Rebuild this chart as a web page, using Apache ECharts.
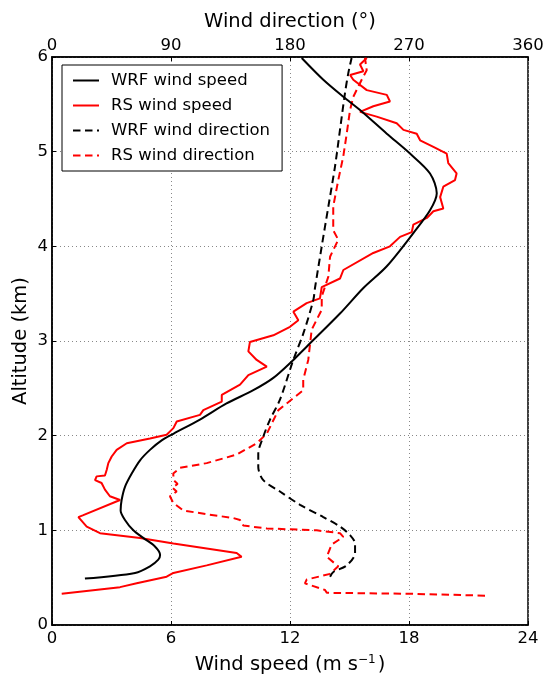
<!DOCTYPE html>
<html>
<head>
<meta charset="utf-8">
<script src="https://cdn.jsdelivr.net/npm/echarts@6/dist/echarts.min.js"></script>
<style>
  html, body { margin: 0; padding: 0; background: #fff; }
  #chart { width: 545px; height: 675px; }
</style>
</head>
<body>
<div id="chart"></div>
<script>
// Altitude (km) and wind profiles
const wrfSpeedAlt = [0.49, 0.55, 0.62, 0.69, 0.74, 0.83, 0.92, 1.00, 1.11, 1.21, 1.32, 1.46, 1.60, 1.74, 1.85, 1.95, 2.02, 2.17, 2.34, 2.48, 2.61, 2.80, 2.94, 3.29, 3.56, 3.79, 4.14, 4.38, 4.56, 4.77, 4.98, 5.19, 5.44, 5.58, 5.76, 5.99];
const wrfSpeed    = [1.66, 4.19, 4.94, 5.36, 5.45, 5.19, 4.60, 4.10, 3.68, 3.46, 3.51, 3.68, 4.02, 4.44, 4.94, 5.53, 6.12, 7.46, 8.80, 10.15, 11.16, 12.17, 12.84, 14.52, 15.70, 16.88, 18.22, 19.06, 19.40, 19.06, 18.05, 16.88, 15.53, 14.69, 13.68, 12.59];

const rsSpeedAlt = [0.33, 0.40, 0.44, 0.51, 0.55, 0.63, 0.72, 0.76, 0.86, 0.92, 0.97, 1.04, 1.14, 1.16, 1.32, 1.36, 1.43, 1.50, 1.53, 1.57, 1.58, 1.64, 1.71, 1.78, 1.85, 1.92, 1.97, 2.01, 2.08, 2.15, 2.22, 2.27, 2.36, 2.43, 2.54, 2.64, 2.73, 2.80, 2.89, 2.99, 3.06, 3.15, 3.22, 3.31, 3.40, 3.45, 3.57, 3.66, 3.75, 3.93, 4.00, 4.10, 4.15, 4.23, 4.30, 4.37, 4.40, 4.52, 4.63, 4.70, 4.77, 4.88, 4.98, 5.05, 5.12, 5.19, 5.23, 5.30, 5.37, 5.42, 5.48, 5.53, 5.60, 5.65, 5.76, 5.81, 5.85, 5.92, 5.99];
const rsSpeed    = [0.49, 3.43, 4.27, 5.78, 6.12, 7.80, 9.56, 9.31, 6.12, 4.44, 2.42, 1.75, 1.33, 1.58, 3.43, 2.92, 2.67, 2.50, 2.17, 2.25, 2.67, 2.76, 2.84, 3.01, 3.26, 3.77, 4.94, 5.78, 6.12, 6.29, 7.46, 7.63, 8.56, 8.56, 9.48, 9.90, 10.83, 10.32, 9.90, 9.98, 11.16, 12.00, 12.42, 12.17, 12.84, 13.51, 13.60, 14.52, 14.69, 16.20, 17.04, 17.55, 18.14, 18.22, 18.90, 19.23, 19.73, 19.57, 19.73, 20.32, 20.40, 19.98, 19.90, 19.23, 18.56, 18.39, 17.72, 17.38, 16.37, 15.53, 16.20, 17.04, 16.88, 15.87, 15.19, 15.03, 15.70, 15.53, 15.87];

const wrfDirAlt = [0.51, 0.56, 0.63, 0.76, 0.86, 0.95, 1.04, 1.14, 1.27, 1.41, 1.53, 1.67, 1.81, 1.99, 2.17, 2.38, 2.80, 3.08, 3.43, 3.56, 4.00, 4.42, 4.84, 5.23, 5.62, 5.83, 5.99];
const wrfDir    = [210.3, 212.8, 222.9, 229.2, 229.2, 225.4, 217.8, 205.2, 187.6, 172.4, 159.8, 156.0, 156.0, 159.8, 164.9, 172.4, 182.5, 190.1, 197.6, 198.9, 204.0, 209.0, 214.0, 217.8, 221.6, 224.1, 226.6];

const rsDirAlt = [0.31, 0.33, 0.34, 0.37, 0.44, 0.48, 0.54, 0.62, 0.72, 0.85, 0.93, 0.97, 1.00, 1.02, 1.05, 1.11, 1.13, 1.17, 1.21, 1.29, 1.36, 1.41, 1.45, 1.49, 1.53, 1.60, 1.66, 1.71, 1.80, 1.92, 2.02, 2.27, 2.48, 2.59, 2.80, 3.12, 3.33, 3.47, 3.68, 3.89, 4.07, 4.17, 4.42, 4.70, 4.95, 5.19, 5.44, 5.58, 5.76, 5.86, 5.99];
const rsDir    = [327.5, 270.7, 207.8, 206.5, 191.3, 192.6, 210.3, 216.5, 207.8, 211.5, 220.3, 217.8, 200.2, 162.4, 144.7, 142.2, 137.1, 117.0, 99.3, 91.7, 89.2, 94.3, 91.0, 95.0, 92.0, 91.7, 96.8, 117.0, 139.7, 154.8, 162.4, 171.2, 190.0, 190.0, 193.8, 196.4, 204.0, 204.0, 209.0, 210.3, 216.5, 212.7, 212.7, 216.5, 220.3, 222.9, 225.4, 227.9, 234.2, 238.0, 236.7];

const pairs = (xs, ys) => xs.map((x, i) => [x, ys[i]]);

const FONT = 'DejaVu Sans';
const chart = echarts.init(document.getElementById('chart'), null, { renderer: 'canvas' });

const gridLine = { show: true, lineStyle: { color: '#888', type: [1, 3], width: 1 } };
const tickLabel = { fontFamily: FONT, fontSize: 16.5, color: '#000' };
const axisName = { fontFamily: FONT, fontSize: 19.5, color: '#000' };
const DASH = [7.5, 4.5];

chart.setOption({
  backgroundColor: '#fff',
  animation: false,
  textStyle: { fontFamily: FONT, color: '#000' },
  grid: { left: 52, right: 17, top: 57, bottom: 50, outerBoundsMode: 'none', containLabel: false, show: true, borderColor: '#000', borderWidth: 1.5, backgroundColor: 'transparent' },
  legend: {
    orient: 'vertical',
    left: 62, top: 65,
    padding: [7, 12, 7, 10],
    itemGap: 8,
    itemWidth: 26, itemHeight: 17,
    borderColor: '#000', borderWidth: 1, borderRadius: 0,
    backgroundColor: '#fff',
    itemStyle: { opacity: 0 },
    textStyle: { fontFamily: FONT, fontSize: 16.5, color: '#000', padding: [0, 0, 0, 7] },
    data: ['WRF wind speed', 'RS wind speed', 'WRF wind direction', 'RS wind direction']
  },
  xAxis: [
    {
      type: 'value', position: 'bottom', min: 0, max: 24, interval: 6,
      name: 'Wind speed (m s{sup|−1})', nameLocation: 'middle', nameGap: 29,
      nameTextStyle: Object.assign({}, axisName, { rich: { sup: { fontSize: 12, verticalAlign: 'top', padding: [0, 2, 10, 0], fontFamily: FONT } } }),
      axisLine: { show: true, lineStyle: { color: '#000', width: 1.5 } },
      axisTick: { show: true, inside: true, length: 4, lineStyle: { color: '#000' } },
      axisLabel: Object.assign({ margin: 5 }, tickLabel),
      splitLine: gridLine
    },
    {
      type: 'value', position: 'top', min: 0, max: 360, interval: 90,
      name: 'Wind direction (°)', nameLocation: 'middle', nameGap: 21,
      nameTextStyle: axisName,
      axisLine: { show: true, lineStyle: { color: '#000', width: 1.5 } },
      axisTick: { show: true, inside: true, length: 4, lineStyle: { color: '#000' } },
      axisLabel: Object.assign({ margin: 3 }, tickLabel),
      splitLine: { show: false }
    }
  ],
  yAxis: {
    type: 'value', min: 0, max: 6, interval: 1,
    name: 'Altitude (km)', nameLocation: 'middle', nameGap: 21, nameMoveOverlap: false,
    nameTextStyle: axisName,
    axisLine: { show: true, lineStyle: { color: '#000', width: 1.5 } },
    axisTick: { show: true, inside: true, length: 4, lineStyle: { color: '#000' } },
    axisLabel: Object.assign({ margin: 4 }, tickLabel),
    splitLine: gridLine
  },
  series: [
    {
      name: 'WRF wind speed', type: 'line', xAxisIndex: 0, showSymbol: false, symbol: 'none',
      smooth: 0.3, color: '#000', lineStyle: { color: '#000', width: 2 },
      data: pairs(wrfSpeed, wrfSpeedAlt), z: 4
    },
    {
      name: 'RS wind speed', type: 'line', xAxisIndex: 0, showSymbol: false, symbol: 'none',
      color: '#ff0000', lineStyle: { color: '#ff0000', width: 2 },
      data: pairs(rsSpeed, rsSpeedAlt), z: 3
    },
    {
      name: 'WRF wind direction', type: 'line', xAxisIndex: 1, showSymbol: false, symbol: 'none',
      smooth: 0.3, color: '#000', lineStyle: { color: '#000', width: 2, type: DASH },
      data: pairs(wrfDir, wrfDirAlt), z: 4
    },
    {
      name: 'RS wind direction', type: 'line', xAxisIndex: 1, showSymbol: false, symbol: 'none',
      color: '#ff0000', lineStyle: { color: '#ff0000', width: 2, type: DASH },
      data: pairs(rsDir, rsDirAlt), z: 3
    }
  ]
});
</script>
</body>
</html>
